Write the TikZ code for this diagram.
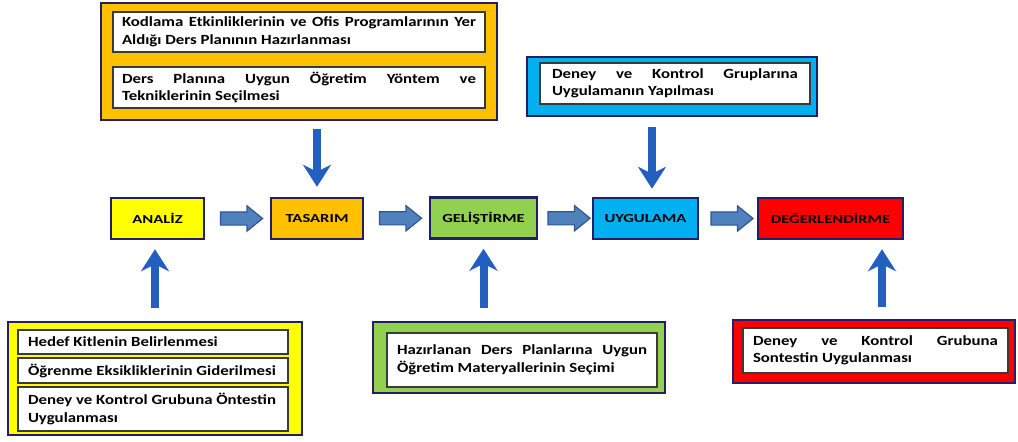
\documentclass[tikz,border=0pt]{standalone}
\usepackage{fontspec}
\setmainfont[FakeStretch=1.2]{Carlito}
\newfontfamily\lblfont[FakeStretch=1.35]{Carlito}
\usetikzlibrary{calc,shapes.arrows,arrows.meta}
\definecolor{navy}{RGB}{35,31,100}
\definecolor{orangeF}{HTML}{FFC000}
\definecolor{yellowF}{HTML}{FFFF00}
\definecolor{greenF}{HTML}{92D050}
\definecolor{blueF}{HTML}{00B0F0}
\definecolor{redF}{HTML}{FF0000}
\definecolor{fatfill}{HTML}{4F81BD}
\definecolor{fatline}{HTML}{2F5597}
\definecolor{pfeilblue}{RGB}{35,95,190}
\definecolor{itemline}{HTML}{3A3A3A}
\hyphenpenalty=10000
\exhyphenpenalty=10000

\begin{document}
\begin{tikzpicture}[x=1pt,y=-1pt]
    \useasboundingbox (0,0) rectangle (1018,442);
    % main stages
    \tikzstyle{stage}=[draw=navy, line width=2.5pt, inner sep=0, minimum height=41pt,
      font=\lblfont\bfseries\fontsize{12.3}{14}\selectfont]
    % coloured frames round the white boxes
    \tikzstyle{grp}=[draw=navy, line width=2.5pt, inner sep=0]
    % white text boxes
    \tikzstyle{item}=[draw=itemline, fill=white, line width=1.5pt, inner ysep=0, align=justify,
      font=\bfseries\fontsize{14}{17.5}\selectfont]
    \tikzstyle{fat}=[single arrow, draw=fatline, fill=fatfill, line width=1.2pt, inner xsep=0,
      inner ysep=6pt, minimum height=42pt, single arrow head extend=6pt, single arrow tip angle=78]
    \tikzstyle{pfeil}=[draw=pfeilblue, line width=8pt, -{Stealth[length=22pt,width=28pt,inset=7pt]}]
    \node[stage, fill=yellowF, minimum width=93pt] (ANA) at (157.5,218.5) {ANALİZ};
    \node[stage, fill=orangeF, minimum width=92pt] (TAS) at (317,218.5) {TASARIM};
    \node[stage, fill=greenF, minimum width=107pt] (GEL) at (483.5,218) {GELİŞTİRME};
    \node[stage, fill=blueF, minimum width=105pt] (UYG) at (645.5,218.5) {UYGULAMA};
    \node[stage, fill=redF, minimum width=145pt] (DEG) at (830.5,218.5) {DEĞERLENDİRME};
    \node[fat] (F1) at ($(ANA.east)!.5!(TAS.west)$) {};
    \node[fat] (F2) at ($(TAS.east)!.5!(GEL.west)$) {};
    \node[fat] (F3) at ($(GEL.east)!.5!(UYG.west)$) {};
    \node[fat] (F4) at ($(UYG.east)!.5!(DEG.west)$) {};
    % top
    \node[grp, fill=orangeF, minimum width=396pt, minimum height=117pt] (GT) at (299,61.5) {};
    \node[item, inner xsep=9pt, text width=354pt, minimum height=40pt] (T1) at (299,32)
      {Kodlama Etkinliklerinin ve Ofis Programlarının Yer\linebreak Aldığı Ders Planının Hazırlanması};
    \node[item, inner xsep=9pt, text width=354pt, minimum height=41pt] (T2) at (299,87.5)
      {Ders Planına Uygun Öğretim Yöntem ve\linebreak Tekniklerinin Seçilmesi};
    \node[grp, fill=blueF, minimum width=290pt, minimum height=59pt] (GU) at (672,86.5) {};
    \node[item, inner xsep=12pt, text width=246pt, minimum height=41pt] (U1) at (675,83.5)
      {Deney ve Kontrol Gruplarına\linebreak Uygulamanın Yapılması};
    % bottom
    \node[grp, fill=yellowF, minimum width=294pt, minimum height=113pt] (GA) at (155,378.5) {};
    \node[item, inner xsep=10pt, text width=250pt, minimum height=24pt] (A1) at (153,342)
      {Hedef Kitlenin Belirlenmesi};
    \node[item, inner xsep=10pt, text width=250pt, minimum height=25pt] (A2) at (153,370.5)
      {Öğrenme Eksikliklerinin Giderilmesi};
    \node[item, inner xsep=10pt, text width=250pt, minimum height=44pt] (A3) at (153,409)
      {Deney ve Kontrol Grubuna Öntestin\\ Uygulanması};
    \node[grp, fill=greenF, minimum width=292pt, minimum height=71pt] (GG) at (519,357.5) {};
    \node[item, inner xsep=10pt, text width=250pt, minimum height=54pt] (G1) at (522,360)
      {Hazırlanan Ders Planlarına Uygun\linebreak Öğretim Materyallerinin Seçimi};
    \node[grp, fill=redF, minimum width=282pt, minimum height=63pt] (GD) at (874,351.5) {};
    \node[item, inner xsep=10pt, text width=245pt, minimum height=45pt] (D1) at (875.5,350.5)
      {Deney ve Kontrol Grubuna\linebreak Sontestin Uygulanması};
    % arrows into the stages
    \draw[pfeil, shorten <=8pt, shorten >=10pt] (TAS.north |- GT.south) -- (TAS.north);
    \draw[pfeil, shorten <=10pt, shorten >=8pt] ([xshift=-20pt]GU.south) -- ([xshift=-20pt]GU.south |- UYG.north);
    \draw[pfeil, shorten <=13pt, shorten >=9pt] (GA.north) -- (GA.north |- ANA.south);
    \draw[pfeil, shorten <=13pt, shorten >=9pt] (GEL.south |- GG.north) -- (GEL.south);
    \draw[pfeil, shorten <=12pt, shorten >=9pt] ([xshift=8pt]GD.north) -- ([xshift=8pt]GD.north |- DEG.south);
\end{tikzpicture}
\end{document}
